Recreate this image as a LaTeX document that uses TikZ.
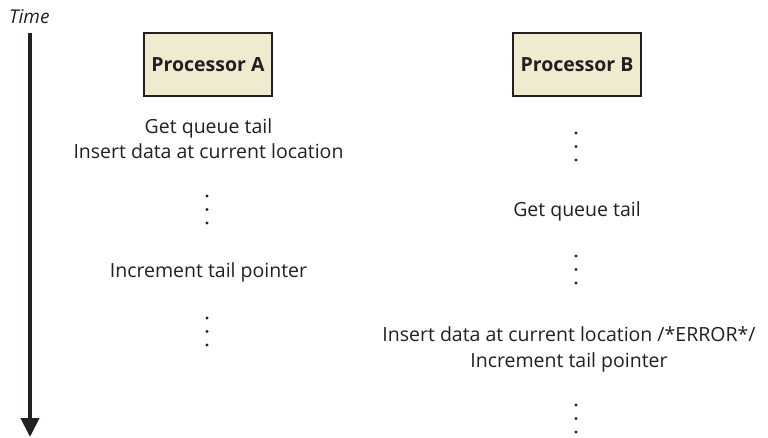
\documentclass[tikz,border=0pt]{standalone}
\usepackage{fontspec}
\setmainfont{Open Sans}
\usetikzlibrary{arrows.meta,positioning}
\definecolor{ink}   {HTML}{231F20}
\definecolor{paper} {HTML}{EEEBCF}

\begin{document}
\begin{tikzpicture}[
  x=1pt, y=-1pt,
  proc/.style={rectangle, draw=ink, line width=1.6pt, fill=paper, minimum width=128pt,
               minimum height=63pt, inner sep=0pt, font=\fontsize{19.5}{24}\selectfont\bfseries, text=ink},
  stepnote/.style={font=\fontsize{19.5}{25.5}\selectfont, text=ink, align=center, inner sep=0pt, anchor=base},
  >={Triangle[length=19pt,width=18pt]}
]
\useasboundingbox (0,0) rectangle (768,437);
% time axis
\node[font=\fontsize{19}{22}\selectfont\itshape, text=ink, anchor=base west, inner sep=0pt] (time) at (9,23) {Time};
\coordinate (t0) at (30,33);
\coordinate (t1) at (30,437);
\draw[->, ink, line width=4pt] (t0) -- (t1);
% processors
\node[proc] (pa) at (208,64.5) {Processor A};
\node[proc] (pb) at (577,64.5) {Processor B};
% processor A (base = last line)
\node[stepnote] (a1) at (208.5,158.5) {Get queue tail\\ Insert data at current location};
\node[stepnote] (a2) at (208.5,277) {Increment tail pointer};
% processor B
\node[stepnote] (b1) at (577,216) {Get queue tail};
\node[stepnote] (b2) at (569,367) {Insert data at current location /*ERROR*/\\ Increment tail pointer};
% gaps
\foreach \x/\y in {207/196,207/318,576/133,576/256,576/405}{
  \foreach \k in {0,1,2}{\fill[ink] (\x,\y+13.5*\k) circle (1.6pt);}
}
\end{tikzpicture}
\end{document}
